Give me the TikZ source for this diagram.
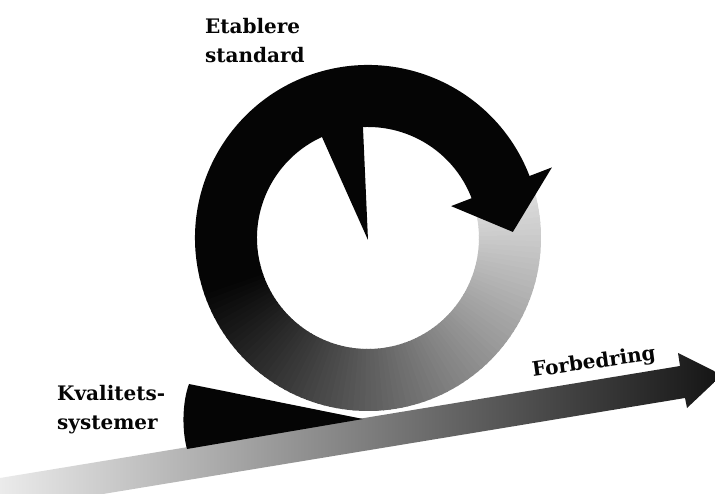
\documentclass[tikz,border=0pt]{standalone}
\usepackage{fontspec}
\setmainfont{DejaVu Serif}
\usepackage{xcolor}
\usetikzlibrary{calc}
\definecolor{LoopBlack}{HTML}{050505}
\definecolor{ShaftPale}{HTML}{EBEBEB}
\definecolor{ShaftDark}{HTML}{141414}

\begin{document}
\begin{tikzpicture}[
  x=1pt, y=1pt,
  caption/.style={font=\bfseries\fontsize{20}{29}\selectfont, align=left, inner sep=0pt, text=LoopBlack},
  loopfill/.style={fill=LoopBlack}
]
\useasboundingbox (0,0) rectangle (715,493);
\clip (0,0) rectangle (715,493);
\coordinate (hub) at (368,255);

% ring: fading tail, black body, head and notch
\begin{scope}[shift={(hub)}]
\foreach \a in {193,195,...,379} {
  \pgfmathsetmacro{\tone}{min(100,100-0.4865*(\a-197))}
  \fill[LoopBlack!\tone] (\a:173) arc[start angle=\a, end angle=\a+2.6, radius=173]
    -- (\a+2.6:111) arc[start angle=\a+2.6, end angle=\a, radius=111] -- cycle;
}
\fill[loopfill] (20:173) arc[start angle=20, end angle=194, radius=173]
  -- (194:111) arc[start angle=194, end angle=20, radius=111] -- cycle;
\fill[loopfill] (21:89) -- (21:197) -- (2.4:145) -- cycle;
\fill[loopfill] (0,-2) -- (92.6:112) arc[start angle=92.6, end angle=114.5, radius=112] -- cycle;
\end{scope}

% long arrow and the wedge under the ring
\shade[left color=ShaftPale, right color=ShaftDark]
  (0,15) -- (680,127) -- (678,140) -- (722,118) -- (687,85) -- (685,95) -- (0,-18) -- cycle;
\fill[loopfill] (189,109) .. controls (182,90) and (182,62) .. (187,44) -- (363,74) -- cycle;

\node[caption, anchor=north west] (etablere) at (205,475) {Etablere\\standard};
\node[caption, anchor=north west] (kvalitet) at (57,108) {Kvalitets-\\systemer};
\node[caption, anchor=base west, rotate=8] (forbedring) at (533,116) {Forbedring};
\end{tikzpicture}
\end{document}
